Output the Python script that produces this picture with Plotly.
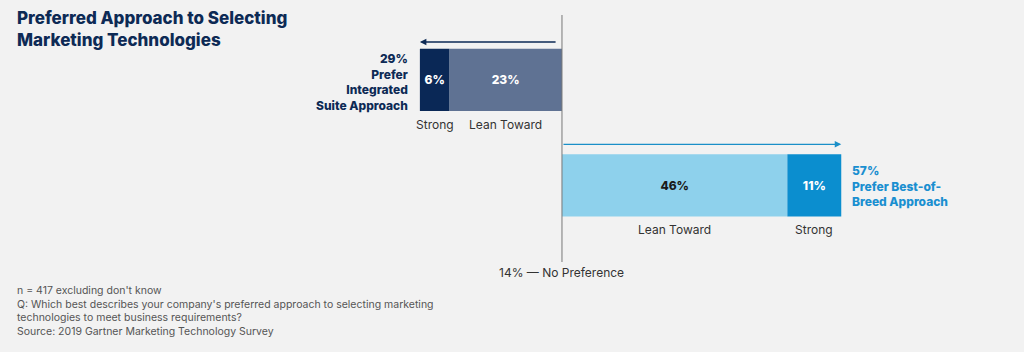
import plotly.graph_objects as go

categories = ["Integrated Suite", "Best-of-Breed"]
lean_vals = [-23, 46]
strong_vals = [-6, 11]
lean_colors = ["#5f7293", "#8ed1ec"]
strong_colors = ["#0a2856", "#0b8ecf"]
lean_text_colors = ["#ffffff", "#1a1a1a"]
strong_text_colors = ["#ffffff", "#ffffff"]
segment_labels = ["Lean Toward", "Strong"]
totals = [29, 57]
no_pref = 14

BG = "#f2f2f2"
NAVY = "#0d2a55"
BLUE = "#1a8fd0"
FONT = "Inter"

fig = go.Figure()
fig.add_trace(go.Bar(
    y=categories, x=lean_vals, orientation="h",
    marker=dict(color=lean_colors, line=dict(width=0)),
    text=[f"{abs(v)}%" for v in lean_vals], textposition="inside",
    insidetextanchor="middle",
    textfont=dict(family=FONT, size=12, color=lean_text_colors, weight=800),
    width=0.59, hoverinfo="skip", name="Lean Toward"))
fig.add_trace(go.Bar(
    y=categories, x=strong_vals, orientation="h",
    marker=dict(color=strong_colors, line=dict(width=0)),
    text=[f"{abs(v)}%" for v in strong_vals], textposition="inside",
    insidetextanchor="middle",
    textfont=dict(family=FONT, size=12, color=strong_text_colors, weight=800),
    width=0.59, hoverinfo="skip", name="Strong"))

ann = []
# segment labels under bars
for i, cat in enumerate(categories):
    l = lean_vals[i]
    s = strong_vals[i]
    ann.append(dict(x=l / 2, y=i + 0.42, xref="x", yref="y", text=segment_labels[0],
                    showarrow=False, font=dict(family=FONT, size=12, color="#333333")))
    ann.append(dict(x=l + s / 2, y=i + 0.42, xref="x", yref="y", text=segment_labels[1],
                    showarrow=False, font=dict(family=FONT, size=12, color="#333333")))

# arrows
t0 = lean_vals[0] + strong_vals[0]
t1 = lean_vals[1] + strong_vals[1]
ann.append(dict(x=t0, y=-0.36, ax=-1, ay=-0.36, xref="x", yref="y", axref="x", ayref="y",
                text="", showarrow=True, arrowhead=2, arrowsize=1, arrowwidth=1.3,
                arrowcolor=NAVY))
ann.append(dict(x=t1, y=0.61, ax=0, ay=0.61, xref="x", yref="y", axref="x", ayref="y",
                text="", showarrow=True, arrowhead=2, arrowsize=1, arrowwidth=1.3,
                arrowcolor="#1a8fc8"))

# totals labels
ann.append(dict(x=t0 - 2, y=0.02, xref="x", yref="y", xanchor="right", yanchor="middle",
                align="right", showarrow=False,
                text=f"{totals[0]}%<br>Prefer<br>Integrated<br>Suite Approach",
                font=dict(family=FONT, size=12, color=NAVY, weight=800)))
ann.append(dict(x=t1 + 1.7, y=1, xref="x", yref="y", xanchor="left", yanchor="middle",
                align="left", showarrow=False,
                text=f"{totals[1]}%<br>Prefer Best-of-<br>Breed Approach",
                font=dict(family=FONT, size=12, color=BLUE, weight=800)))

# no preference
ann.append(dict(x=0, y=1.82, xref="x", yref="y", xanchor="center", showarrow=False,
                text=f"{no_pref}% — No Preference",
                font=dict(family=FONT, size=12, color="#333333")))

# title
ann.append(dict(x=15 / 1024, y=1 - 6 / 352, xref="paper", yref="paper", xanchor="left",
                yanchor="top", align="left", showarrow=False,
                text="Preferred Approach to Selecting<br>Marketing Technologies",
                font=dict(family=FONT, size=17, color=NAVY, weight=800)))
# footnote
ann.append(dict(x=15 / 1024, y=1 - 282 / 352, xref="paper", yref="paper", xanchor="left",
                yanchor="top", align="left", showarrow=False,
                text=("n = 417 excluding don't know<br>"
                      "Q: Which best describes your company's preferred approach to selecting marketing<br>"
                      "technologies to meet business requirements?<br>"
                      "Source: 2019 Gartner Marketing Technology Survey"),
                font=dict(family=FONT, size=10.5, color="#555555")))

fig.update_layout(
    width=1024, height=352, margin=dict(l=0, r=0, t=0, b=0),
    paper_bgcolor=BG, plot_bgcolor=BG, barmode="relative", showlegend=False,
    xaxis=dict(range=[-114.7, 94.3], visible=False, fixedrange=True),
    yaxis=dict(range=[2.578, -0.758], visible=False, fixedrange=True),
    annotations=ann,
    shapes=[dict(type="line", x0=0, x1=0, xref="x", yref="paper",
                 y0=1 - 262 / 352, y1=1 - 15 / 352,
                 line=dict(color="#777777", width=1))],
)

fig.write_html("out.html")
